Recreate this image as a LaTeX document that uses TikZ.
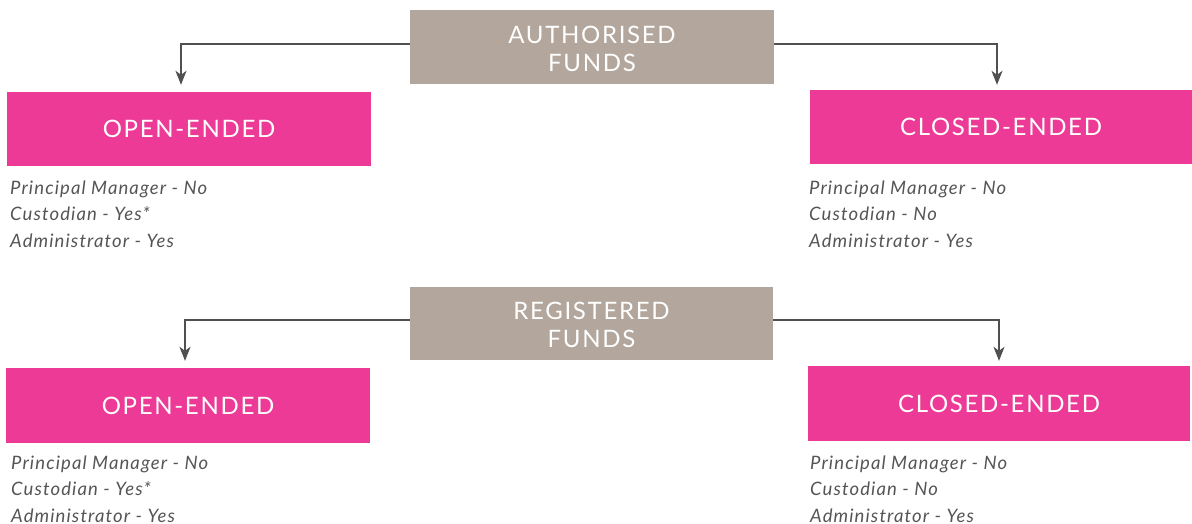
\documentclass[tikz,border=0pt]{standalone}
\usepackage{fontspec}
\setmainfont{Lato}
\newfontfamily\headfont[LetterSpace=7]{Lato}
\newfontfamily\listfont[LetterSpace=6]{Lato}
\usetikzlibrary{arrows.meta}
\definecolor{pinkbox}{RGB}{236,58,150}
\definecolor{greybox}{RGB}{178,166,157}
\definecolor{linegrey}{RGB}{80,80,80}
\definecolor{listgrey}{RGB}{85,85,85}
\begin{document}
\begin{tikzpicture}[x=1pt,y=-1pt,
  headbox/.style={fill=greybox, minimum width=364pt, minimum height=74pt, inner sep=0pt},
  headtext/.style={text=white, inner sep=0pt, align=center, font=\headfont\fontsize{24}{28}\selectfont},
  typebox/.style={fill=pinkbox, text=white, minimum height=74pt, inner sep=0pt,
     font=\headfont\fontsize{24}{28}\selectfont},
  listtext/.style={anchor=north west, inner sep=0pt, align=left, text=listgrey,
     font=\listfont\fontsize{18.5}{26.5}\selectfont\itshape},
  conn/.style={draw=linegrey, line width=1.2pt, -{Stealth[length=14pt,width=11pt,inset=4pt]}}]
\useasboundingbox (0,0) rectangle (1192,524);
% top group
\node[headbox] (auth) at (592,47) {};
\node[headtext] (authtxt) at ([yshift=-2pt]auth.center) {AUTHORISED\\FUNDS};
\node[typebox, minimum width=364pt] (aopen) at (189,129) {OPEN-ENDED};
\node[typebox, minimum width=382pt] (aclosed) at (1001,127) {CLOSED-ENDED};
\node[listtext] (alist) at (10,180.5) {Principal Manager - No\\Custodian - Yes*\\Administrator - Yes};
\node[listtext] (blist) at (809,180.5) {Principal Manager - No\\Custodian - No\\Administrator - Yes};
\draw[conn, shorten >=7pt] ([yshift=3pt]auth.west) -| ([xshift=-8pt]aopen.north);
\draw[conn, shorten >=5pt] ([yshift=3pt]auth.east) -| ([xshift=-4pt]aclosed.north);
% bottom group
\node[headbox, minimum width=363pt, minimum height=73pt] (reg) at (591.5,323.5) {};
\node[headtext] (regtxt) at ([yshift=-1pt]reg.center) {REGISTERED\\FUNDS};
\node[typebox, minimum width=364pt, minimum height=75pt] (ropen) at (188,405.5) {OPEN-ENDED};
\node[typebox, minimum width=382pt, minimum height=75pt] (rclosed) at (999,403.5) {CLOSED-ENDED};
\node[listtext] (clist) at (11,455.5) {Principal Manager - No\\Custodian - Yes*\\Administrator - Yes};
\node[listtext] (dlist) at (810,455.5) {Principal Manager - No\\Custodian - No\\Administrator - Yes};
\draw[conn, shorten >=7pt] ([yshift=3.5pt]reg.west) -| ([xshift=-3pt]ropen.north);
\draw[conn, shorten >=5pt] ([yshift=3.5pt]reg.east) -| (rclosed.north);
\end{tikzpicture}
\end{document}
